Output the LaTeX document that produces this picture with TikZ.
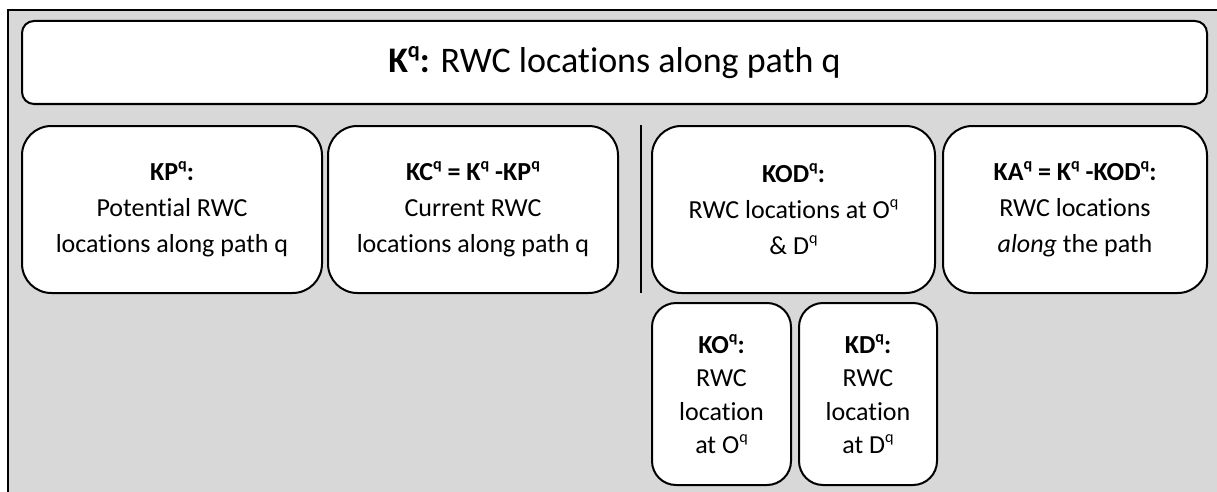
\documentclass[tikz,border=0pt]{standalone}
\usepackage{fontspec}
\setmainfont{Carlito}[Ligatures={NoCommon}]
\definecolor{panelgray}{RGB}{216,216,216}
\newcommand{\supq}{\raisebox{0.42em}{\scalebox{0.62}{q}}}
\tikzset{
  setbox/.style={draw=black, line width=1.5pt, fill=white, align=center,
    font=\fontsize{19.5}{27}\selectfont, inner sep=0pt},
  smallbox/.style={setbox, font=\fontsize{19.5}{25}\selectfont}
}
\begin{document}
\begin{tikzpicture}[x=0.75pt, y=-0.75pt]
        \useasboundingbox (0,0) rectangle (1217,492);
        % Draw panel
        \fill[panelgray] (8,10) rectangle (1217,492);
        \draw[line width=1.5pt] (8,492) -- (8,10) -- (1217,10);
        % Title box
        \node[setbox, rounded corners=9pt, minimum width=888.75pt, minimum height=62.25pt,
          font=\fontsize{27}{32}\selectfont] (title) at (614.5,62.5)
          {\textbf{K\supq:} RWC locations along path q};
        % Sets along path q
        \node[setbox, rounded corners=22pt, minimum width=225pt, minimum height=125.25pt] (kp) at (172,209.5)
          {\textbf{KP\supq:}\\Potential RWC\\locations along path q};
        \node[setbox, rounded corners=22pt, minimum width=217.5pt, minimum height=125.25pt] (kc) at (473,209.5)
          {\textbf{KC\supq\ = K\supq\ -KP\supq}\\Current RWC\\locations along path q};
        % Divider
        \coordinate (divtop) at (641,125);
        \coordinate (divbot) at (641,293);
        \draw[line width=1.2pt] (divtop) -- (divbot);
        \node[setbox, rounded corners=22pt, minimum width=212.25pt, minimum height=125.25pt] (kod) at (793.5,209.5)
          {\textbf{KOD\supq:}\\RWC locations at O\supq\\\& D\supq};
        \node[setbox, rounded corners=22pt, minimum width=198pt, minimum height=125.25pt] (ka) at (1075,209.5)
          {\textbf{KA\supq\ = K\supq\ -KOD\supq:}\\RWC locations\\\textit{along} the path};
        % Origin and destination
        \node[smallbox, rounded corners=18pt, minimum width=104.25pt, minimum height=136.5pt] (ko) at (721.5,394)
          {\textbf{KO\supq:}\\RWC\\location\\at O\supq};
        \node[smallbox, rounded corners=18pt, minimum width=103.5pt, minimum height=136.5pt] (kd) at (868,394)
          {\textbf{KD\supq:}\\RWC\\location\\at D\supq};
      \end{tikzpicture}
\end{document}
